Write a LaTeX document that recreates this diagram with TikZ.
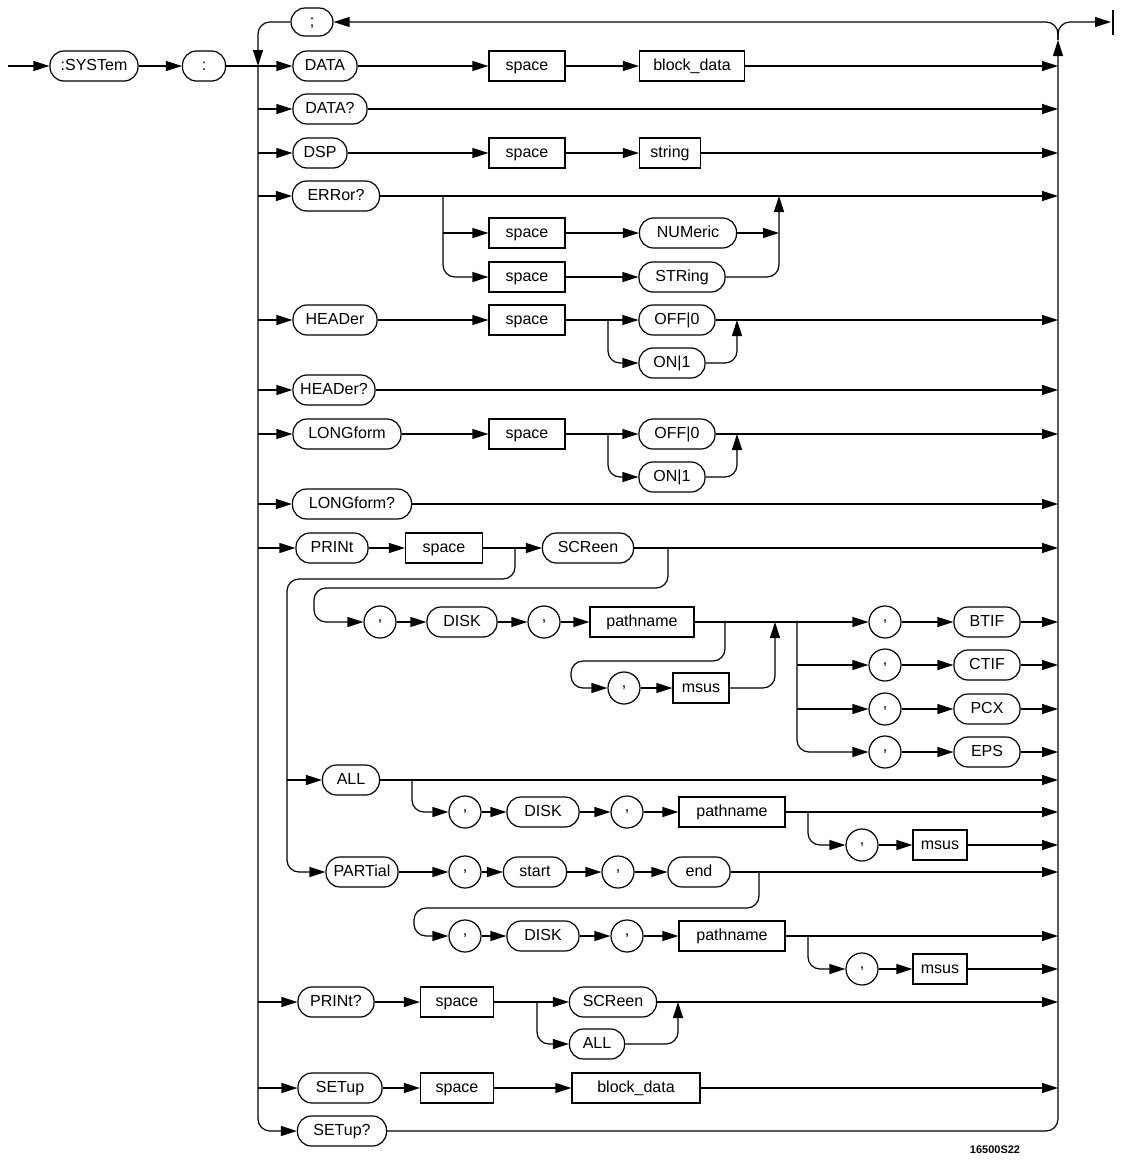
\documentclass[tikz,border=0pt]{standalone}
\usepackage{fontspec}
\setsansfont{Liberation Sans}
\usetikzlibrary{arrows.meta}

\tikzset{
  kw/.style={draw, rounded corners=7pt, minimum height=15pt, inner sep=1pt,
    text height=6pt, text depth=1.2pt},
  param/.style={draw, minimum height=15pt, inner sep=1pt,
    text height=6pt, text depth=1.2pt},
  punct/.style={draw, circle, minimum size=16pt, inner sep=0pt}
}

\begin{document}
\begin{tikzpicture}[x=0.5pt, y=-0.5pt, line width=0.6pt,
    >={Triangle[length=8pt,width=5pt]},
    font=\sffamily\fontsize{8}{9}\selectfont]
\useasboundingbox (0,0) rectangle (1123,1162);

% rails
\coordinate (L) at (258,0);
\coordinate (R) at (1058,0);
\coordinate (P) at (287,0);
\coordinate (entry) at (8,66);
\coordinate (exit) at (1111,22);
\coordinate (top) at (1058,40);

% head
\node[kw, minimum width=44pt] (system) at (94,66) {:SYSTem};
\node[kw, minimum width=21.5pt] (colon) at (204,66) {:};
\node[kw, minimum width=21pt, minimum height=14pt] (semi) at (312,22) {;};

% DATA, DATA?, DSP
\node[kw, minimum width=32pt] (data) at (325,66) {DATA};
\node[param, minimum width=38pt] (sp1) at (527,66) {space};
\node[param, minimum width=52.5pt] (blk1) at (692,66) {block\_data};
\node[kw, minimum width=37pt] (dataq) at (330,109) {DATA?};
\node[kw, minimum width=27pt] (dsp) at (320,153) {DSP};
\node[param, minimum width=38pt] (sp2) at (527,153) {space};
\node[param, minimum width=30.5pt] (str) at (670,153) {string};

% ERRor?
\node[kw, minimum width=43.5pt] (errq) at (336,196) {ERRor?};
\node[param, minimum width=38pt] (sp3) at (527,233) {space};
\node[kw, minimum width=48.5pt] (num) at (688,233) {NUMeric};
\node[param, minimum width=38pt] (sp4) at (527,277) {space};
\node[kw, minimum width=43pt] (strg) at (682,277) {STRing};

% HEADer, LONGform
\node[kw, minimum width=42pt] (header) at (335,320) {HEADer};
\node[param, minimum width=38pt] (sp5) at (527,320) {space};
\node[kw, minimum width=38pt] (off1) at (677,320) {OFF|0};
\node[kw, minimum width=33pt] (on1) at (672,363) {ON|1};
\node[kw, minimum width=41pt] (headerq) at (334,390) {HEADer?};
\node[kw, minimum width=54pt] (longform) at (347,434) {LONGform};
\node[param, minimum width=38pt] (sp6) at (527,434) {space};
\node[kw, minimum width=38pt] (off2) at (677,434) {OFF|0};
\node[kw, minimum width=33pt] (on2) at (672,477) {ON|1};
\node[kw, minimum width=59.5pt] (longformq) at (352,504) {LONGform?};

% PRINt
\node[kw, minimum width=36pt] (print) at (332,548) {PRINt};
\node[param, minimum width=38.5pt] (sp7) at (444,548) {space};
\node[kw, minimum width=45.5pt] (scr1) at (588,548) {SCReen};
\node[punct] (cA) at (380,622) {,};
\node[kw, minimum width=35pt] (diskA) at (462,622) {DISK};
\node[punct] (cB) at (544,622) {,};
\node[param, minimum width=52pt] (pathA) at (642,622) {pathname};
\node[punct] (cC) at (624,688) {,};
\node[param, minimum width=28pt] (msusA) at (701,688) {msus};
\node[punct] (cD) at (885,622) {,};
\node[kw, minimum width=33pt] (btif) at (987,622) {BTIF};
\node[punct] (cE) at (885,665) {,};
\node[kw, minimum width=33pt] (ctif) at (987,665) {CTIF};
\node[punct] (cF) at (885,709) {,};
\node[kw, minimum width=33pt] (pcx) at (987,709) {PCX};
\node[punct] (cG) at (885,752) {,};
\node[kw, minimum width=33pt] (eps) at (987,752) {EPS};

% ALL
\node[kw, minimum width=28.5pt] (all) at (351,780) {ALL};
\node[punct] (cH) at (465,812) {,};
\node[kw, minimum width=36pt] (diskB) at (543,812) {DISK};
\node[punct] (cI) at (627,812) {,};
\node[param, minimum width=53pt] (pathB) at (732,812) {pathname};
\node[punct] (cJ) at (862,845) {,};
\node[param, minimum width=27pt] (msusB) at (940,845) {msus};

% PARTial
\node[kw, minimum width=36pt] (partial) at (362,872) {PARTial};
\node[punct] (cK) at (465,872) {,};
\node[kw, minimum width=31.5pt] (pstart) at (535,872) {start};
\node[punct] (cL) at (618,872) {,};
\node[kw, minimum width=31pt] (pend) at (699,872) {end};
\node[punct] (cM) at (465,936) {,};
\node[kw, minimum width=36pt] (diskC) at (543,936) {DISK};
\node[punct] (cN) at (627,936) {,};
\node[param, minimum width=53pt] (pathC) at (732,936) {pathname};
\node[punct] (cO) at (862,969) {,};
\node[param, minimum width=27pt] (msusC) at (940,969) {msus};

% PRINt?, SETup, SETup?
\node[kw, minimum width=38pt] (printq) at (336,1002) {PRINt?};
\node[param, minimum width=36.5pt] (sp8) at (457,1002) {space};
\node[kw, minimum width=43.5pt] (scr2) at (613,1002) {SCReen};
\node[kw, minimum width=27.5pt] (all2) at (597,1044) {ALL};
\node[kw, minimum width=42pt] (setup) at (340,1088) {SETup};
\node[param, minimum width=36.5pt] (sp9) at (457,1088) {space};
\node[param, minimum width=64pt] (blk2) at (636,1088) {block\_data};
\node[kw, minimum width=44.5pt] (setupq) at (342,1131) {SETup?};

\node[font=\sffamily\bfseries\fontsize{5.5}{7}\selectfont] (code) at (995,1150) {16500S22};

% rails and loops
\draw[->, rounded corners=6pt] (semi) -| (L |- data);
\draw[->, rounded corners=6pt] (L |- data) |- (setupq);
\draw[->, rounded corners=6pt] (setupq) -| (top);
\draw[->, rounded corners=6pt] (top) |- (semi);
\draw[->, rounded corners=6pt] (top) |- (exit);
\draw (1113,10) -- (1113,35);

\foreach \n in {dataq,dsp,errq,header,headerq,longform,longformq,print,printq,setup}
  \draw[->] (L |- \n) -- (\n);
\foreach \n in {blk1,dataq,str,errq,off1,headerq,off2,longformq,scr1,btif,ctif,pcx,eps,
    all,pathB,msusB,pend,pathC,msusC,scr2,blk2}
  \draw[->] (\n) -- (\n -| R);

\path[->]
  (entry) edge (system)
  (system) edge (colon)
  (colon) edge (data)
  (data) edge (sp1)
  (sp1) edge (blk1)
  (dsp) edge (sp2)
  (sp2) edge (str)
  (sp3) edge (num)
  (sp4) edge (strg)
  (header) edge (sp5)
  (sp5) edge (off1)
  (longform) edge (sp6)
  (sp6) edge (off2)
  (print) edge (sp7)
  (sp7) edge (scr1)
  (cA) edge (diskA)
  (diskA) edge (cB)
  (cB) edge (pathA)
  (pathA) edge (cD)
  (cC) edge (msusA)
  (cD) edge (btif)
  (cE) edge (ctif)
  (cF) edge (pcx)
  (cG) edge (eps)
  (cH) edge (diskB)
  (diskB) edge (cI)
  (cI) edge (pathB)
  (cJ) edge (msusB)
  (partial) edge (cK)
  (cK) edge (pstart)
  (pstart) edge (cL)
  (cL) edge (pend)
  (cM) edge (diskC)
  (diskC) edge (cN)
  (cN) edge (pathC)
  (cO) edge (msusC)
  (printq) edge (sp8)
  (sp8) edge (scr2)
  (setup) edge (sp9)
  (sp9) edge (blk2)
  (P |- all) edge (all);

% ERRor? options
\draw[->, rounded corners=6pt] (443,196) |- (sp4);
\draw[->] (443,233) -- (sp3);
\draw[->] (num) -- (779,233);
\draw[->, rounded corners=6pt] (strg) -| (779,196);

% HEADer / LONGform options
\draw[->, rounded corners=6pt] (608,320) |- (on1);
\draw[->, rounded corners=6pt] (on1) -| (737,320);
\draw[->, rounded corners=6pt] (608,434) |- (on2);
\draw[->, rounded corners=6pt] (on2) -| (737,434);

% PRINt branches
\draw[->, rounded corners=6pt] (515,548) |- (287,579) |- (partial);
\draw[->, rounded corners=6pt] (668,548) |- (314,588) |- (cA);
\draw[->, rounded corners=6pt] (725,622) |- (571,661) |- (cC);
\draw[->, rounded corners=6pt] (msusA) -| (775,622);
\draw[->, rounded corners=6pt] (797,622) |- (cG);
\draw[->] (797,665) -- (cE);
\draw[->] (797,709) -- (cF);
\draw[->, rounded corners=6pt] (412,780) |- (cH);
\draw[->, rounded corners=6pt] (808,812) |- (cJ);
\draw[->, rounded corners=6pt] (759,872) |- (414,908) |- (cM);
\draw[->, rounded corners=6pt] (808,936) |- (cO);

% PRINt? options
\draw[->, rounded corners=6pt] (537,1002) |- (all2);
\draw[->, rounded corners=6pt] (all2) -| (678,1002);
\end{tikzpicture}
\end{document}
